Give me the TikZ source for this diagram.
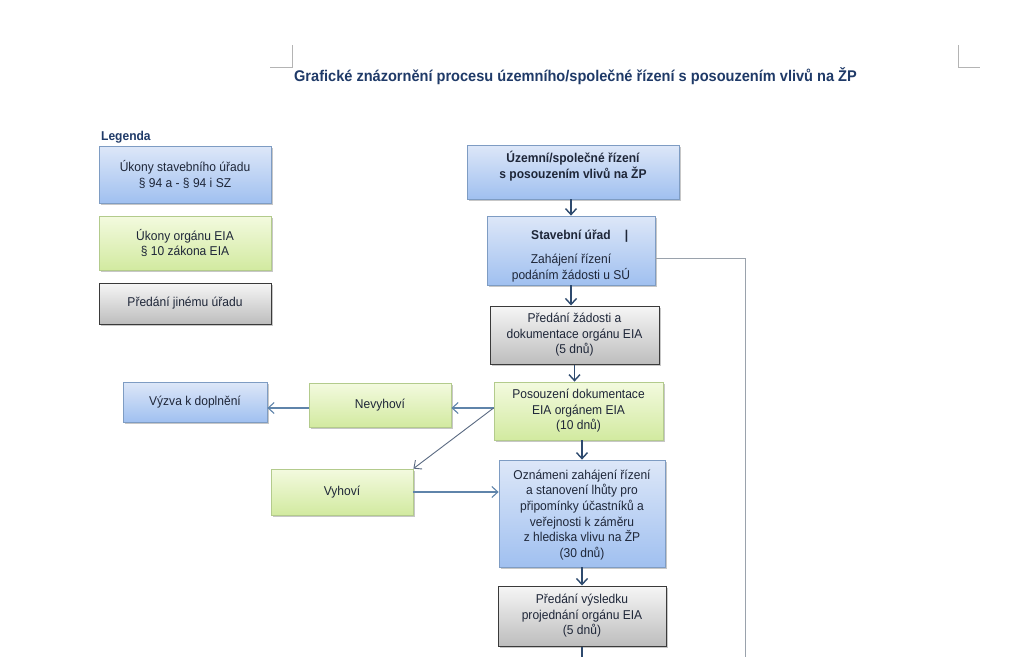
\documentclass[tikz,border=0pt]{standalone}
\usepackage{fontspec}
\setmainfont{Liberation Sans}[FakeStretch=0.94]
\usetikzlibrary{arrows.meta,shadows,calc}
\definecolor{navy}{HTML}{1F3A68}
\definecolor{txt}{HTML}{1E2638}
\definecolor{bTop}{HTML}{DDE7F8}
\definecolor{bBot}{HTML}{A0C0F0}
\definecolor{bBrd}{HTML}{7E9CC3}
\definecolor{gTop}{HTML}{F3FADF}
\definecolor{gBot}{HTML}{D2EAA0}
\definecolor{gBrd}{HTML}{B3CB8C}
\definecolor{yTop}{HTML}{F6F6F6}
\definecolor{yBot}{HTML}{BDBDBD}
\definecolor{yBrd}{HTML}{3A3A3A}
\definecolor{arrDark}{HTML}{2E4A6E}
\definecolor{arrSteel}{HTML}{5F84AA}
\definecolor{arrDiag}{HTML}{5A6A82}
\definecolor{lineGray}{HTML}{9AA2AC}
\definecolor{markGray}{HTML}{B4B4B4}
\tikzset{
  boxfont/.style={font=\fontsize{12.8}{15.6}\selectfont},
  box/.style={draw, inner sep=0pt, align=center, text=txt, boxfont,
    drop shadow={shadow xshift=1.6pt, shadow yshift=-1.6pt, fill=black, opacity=0.22}},
  bluebox/.style={box, draw=bBrd, line width=0.8pt, top color=bTop, bottom color=bBot},
  greenbox/.style={box, draw=gBrd, line width=0.8pt, top color=gTop, bottom color=gBot},
  graybox/.style={box, draw=yBrd, line width=1pt, top color=yTop, bottom color=yBot},
  boxtext/.style={inner sep=0pt, align=center, text=txt, boxfont},
  darrow/.style={draw=arrDark, line width=1.4pt, -{Straight Barb[length=6pt,width=11pt]}},
  sarrow/.style={draw=arrSteel, line width=1.1pt, -{Straight Barb[length=6pt,width=11pt]}},
  diagarrow/.style={draw=arrDiag, line width=0.9pt, -{Straight Barb[length=6pt,width=11pt]}},
  plainline/.style={draw=lineGray, line width=1pt},
  cornermark/.style={draw=markGray, line width=0.8pt}
}
\begin{document}
\begin{tikzpicture}[x=1pt,y=-1pt]
\useasboundingbox[fill=white] (0,0) rectangle (1024,656);
% corner marks
\draw[cornermark] (292,45) -- (292,67) -- (270,67);
\draw[cornermark] (958,45) -- (958,67) -- (980,67);
% title
\node[font=\fontsize{15.5}{17}\selectfont\bfseries, text=navy] (title) at (575.5,76) {Grafické znázornění procesu územního/společné řízení s posouzením vlivů na ŽP};
% legend
\node[font=\fontsize{12.8}{14}\selectfont\bfseries, text=navy, anchor=west, inner sep=0pt] (leg) at (101,137) {Legenda};
\node[bluebox, minimum width=172pt, minimum height=57pt] (l1) at (185,174.5) {Úkony stavebního úřadu\\§ 94 a - § 94 i SZ};
\node[greenbox, minimum width=172pt, minimum height=54pt] (l2) at (185,243) {Úkony orgánu EIA\\§ 10 zákona EIA};
\node[graybox, minimum width=172pt, minimum height=41pt] (l3) at (185,303.5) {Předání jinému úřadu};
% main flow
\node[bluebox, minimum width=212pt, minimum height=54pt] (m1) at (573,172) {};
\node[boxtext, font=\fontsize{12.8}{15.6}\selectfont\bfseries] (m1t) at (573,166) {Územní/společné řízení\\s posouzením vlivů na ŽP};
\node[bluebox, minimum width=168pt, minimum height=69pt] (m2) at (571,250.5) {};
\node[boxtext] (m2t) at (571,256) {\textbf{Stavební úřad}\rlap{\hspace{14pt}\textbf{|}}\\[8pt]Zahájení řízení\\podáním žádosti u SÚ};
\node[graybox, minimum width=169pt, minimum height=58pt] (m3) at (574.5,335) {Předání žádosti a\\dokumentace orgánu EIA\\(5 dnů)};
\node[greenbox, minimum width=169pt, minimum height=58pt] (m4) at (578.5,411) {Posouzení dokumentace\\EIA orgánem EIA\\(10 dnů)};
\node[greenbox, minimum width=142pt, minimum height=44pt] (nev) at (380,405) {Nevyhoví};
\node[bluebox, minimum width=144pt, minimum height=40pt] (vyz) at (195,402) {Výzva k doplnění};
\node[greenbox, minimum width=142pt, minimum height=46pt] (vyh) at (342,492) {Vyhoví};
\node[bluebox, minimum width=166pt, minimum height=107pt] (m5) at (582,513.5) {};
\node[boxtext] (m5t) at (582,515) {Oznámeni zahájení řízení\\a stanovení lhůty pro\\připomínky účastníků a\\veřejnosti k záměru\\z hlediska vlivu na ŽP\\(30 dnů)};
\node[graybox, minimum width=168pt, minimum height=60pt] (m6) at (582,616) {Předání výsledku\\projednání orgánu EIA\\(5 dnů)};
% coordinates
\coordinate (a) at ($(m4.west)+(0,-3)$);
\coordinate (r1) at (745,258);
\coordinate (r2) at (745,662);
\coordinate (m2r) at (m2.east |- r1);
\coordinate (out) at (582,665);
% connectors
\draw[darrow] (m1.south -| m2.north) -- (m2.north);
\draw[darrow] (m2.south) -- (m2.south |- m3.north);
\draw[darrow] (m3.south) -- (m3.south |- m4.north);
\draw[darrow] (m4.south -| m5.north) -- (m5.north);
\draw[darrow] (m5.south) -- (m5.south |- m6.north);
\draw[darrow] (m6.south) -- (out);
\draw[sarrow] (a) -- (nev.east |- a);
\draw[sarrow] (nev.west |- a) -- (vyz.east |- a);
\draw[diagarrow] (a) -- (vyh.north east);
\draw[sarrow] (vyh.east) -- (m5.west |- vyh.east);
\draw[plainline] (m2r) -- (r1) -- (r2);
\end{tikzpicture}
\end{document}
